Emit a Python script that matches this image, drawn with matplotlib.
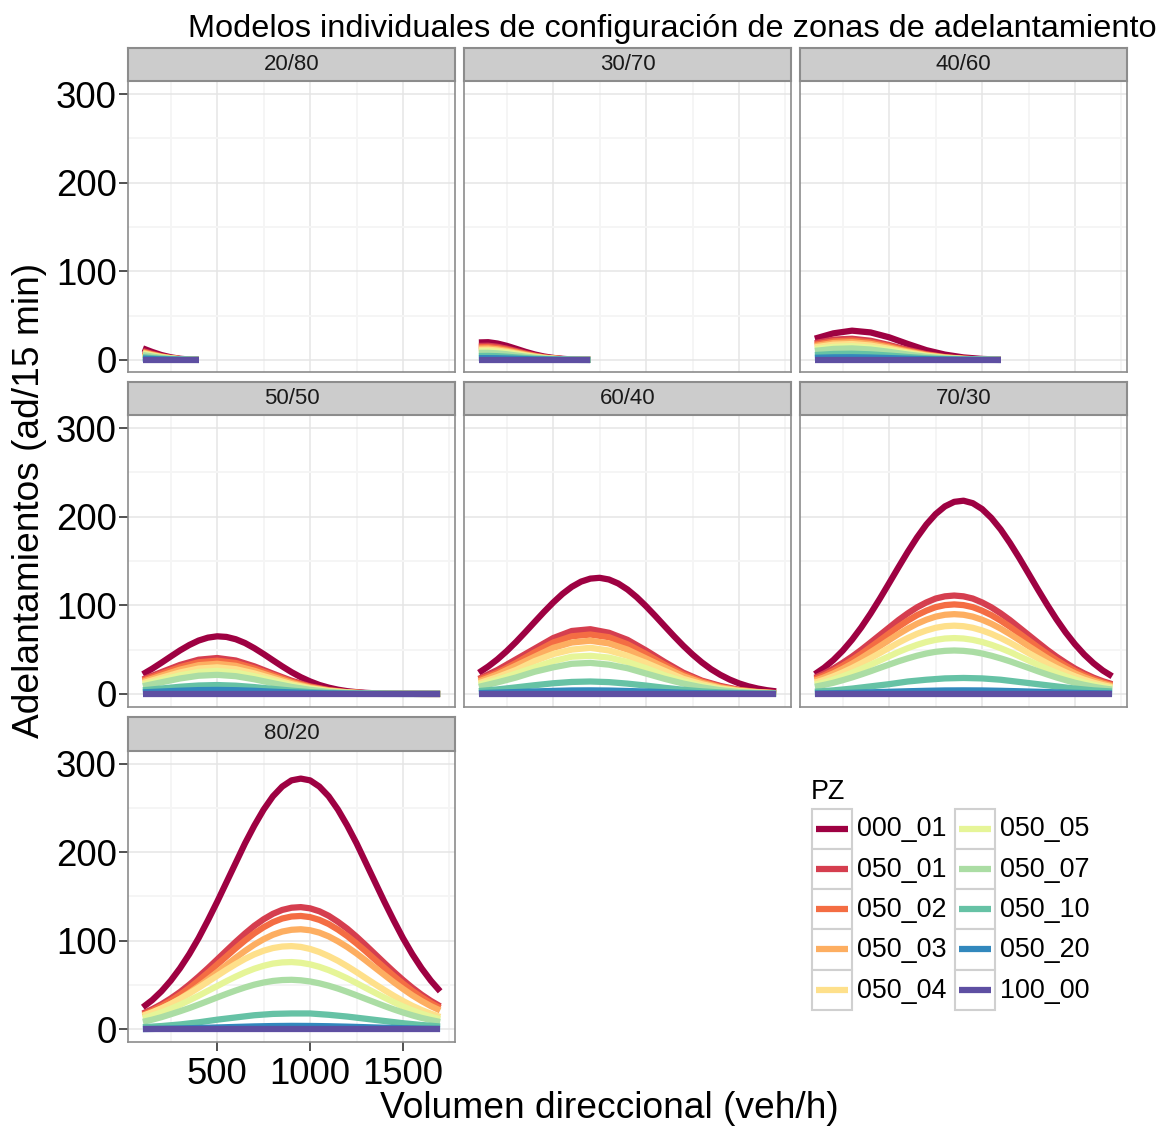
import matplotlib
matplotlib.use("Agg")
import matplotlib.pyplot as plt
from matplotlib.patches import Rectangle
from matplotlib.lines import Line2D

plt.rcParams['font.family'] = ['Liberation Sans', 'DejaVu Sans']

# series (PZ) and brewer Spectral colours
pz = ["000_01", "050_01", "050_02", "050_03", "050_04",
      "050_05", "050_07", "050_10", "050_20", "100_00"]
colors = ["#9E0142", "#D53E4F", "#F46D43", "#FDAE61", "#FEE08B",
          "#E6F598", "#ABDDA4", "#66C2A5", "#3288BD", "#5E4FA2"]
panels = ["20/80", "30/70", "40/60", "50/50", "60/40", "70/30", "80/20"]

# ---- 20/80 ----
x_2080 = [100, 150, 200, 250, 300, 350, 400]
y_2080 = {
    "000_01": [13, 9, 5.5, 3, 1.3, 0.5, 0.2],
    "050_01": [10, 6.9, 4.2, 2.3, 1.0, 0.4, 0.15],
    "050_02": [9, 6.2, 3.8, 2.1, 0.9, 0.4, 0.1],
    "050_03": [8.3, 5.7, 3.5, 1.9, 0.8, 0.3, 0.1],
    "050_04": [7.5, 5.2, 3.2, 1.7, 0.8, 0.3, 0.1],
    "050_05": [6.5, 4.5, 2.7, 1.5, 0.7, 0.3, 0.1],
    "050_07": [5.5, 3.8, 2.3, 1.3, 0.6, 0.2, 0.1],
    "050_10": [3, 2.1, 1.3, 0.7, 0.3, 0.1, 0.05],
    "050_20": [1.5, 1.0, 0.6, 0.35, 0.15, 0.06, 0.02],
    "100_00": [0, 0, 0, 0, 0, 0, 0],
}

# ---- 30/70 ----
x_3070 = [100, 150, 200, 250, 300, 350, 400, 450, 500, 550, 600, 650, 700]
y_3070 = {
    "000_01": [19.7, 20, 18.5, 15.9, 12.6, 9.2, 6.2, 3.9, 2.3, 1.2, 0.6, 0.3, 0.1],
    "050_01": [15.8, 16, 14.8, 12.7, 10.1, 7.4, 5.0, 3.1, 1.8, 1.0, 0.5, 0.2, 0.1],
    "050_02": [14.3, 14.5, 13.4, 11.5, 9.1, 6.7, 4.5, 2.8, 1.7, 0.9, 0.4, 0.2, 0.1],
    "050_03": [12.8, 13, 12.0, 10.3, 8.2, 6.0, 4.0, 2.5, 1.5, 0.8, 0.4, 0.2, 0.1],
    "050_04": [11.3, 11.5, 10.6, 9.1, 7.2, 5.3, 3.6, 2.2, 1.3, 0.7, 0.3, 0.2, 0.1],
    "050_05": [9.9, 10, 9.3, 8.0, 6.3, 4.6, 3.1, 2.0, 1.2, 0.6, 0.3, 0.2, 0.1],
    "050_07": [7.9, 8, 7.4, 6.4, 5.0, 3.7, 2.5, 1.6, 0.9, 0.5, 0.2, 0.1, 0.0],
    "050_10": [4.4, 4.5, 4.2, 3.6, 2.8, 2.1, 1.4, 0.9, 0.5, 0.3, 0.1, 0.1, 0.0],
    "050_20": [2.0, 2.0, 1.9, 1.6, 1.3, 0.9, 0.6, 0.4, 0.2, 0.1, 0.1, 0.0, 0.0],
    "100_00": [0, 0, 0, 0, 0, 0, 0, 0, 0, 0, 0, 0, 0],
}

# ---- 40/60 ----
x_4060 = [100, 200, 300, 400, 500, 600, 700, 800, 900, 1000, 1100]
y_4060 = {
    "000_01": [24, 30, 33, 31, 25.5, 18, 11, 6, 2.8, 1.1, 0.4],
    "050_01": [18.9, 22.9, 23.9, 21.6, 16.8, 11.3, 6.5, 3.2, 1.4, 0.5, 0.2],
    "050_02": [17.3, 21.0, 21.9, 19.8, 15.4, 10.3, 6.0, 3.0, 1.3, 0.5, 0.2],
    "050_03": [15.7, 19.1, 19.9, 18.0, 14.0, 9.4, 5.4, 2.7, 1.2, 0.4, 0.1],
    "050_04": [14.2, 17.2, 17.9, 16.2, 12.6, 8.4, 4.9, 2.4, 1.0, 0.4, 0.1],
    "050_05": [12.2, 14.8, 15.5, 13.9, 10.8, 7.3, 4.2, 2.1, 0.9, 0.3, 0.1],
    "050_07": [10.2, 12.4, 13.0, 11.7, 9.1, 6.1, 3.5, 1.8, 0.8, 0.3, 0.1],
    "050_10": [5.5, 6.7, 7.0, 6.3, 4.9, 3.3, 1.9, 0.9, 0.4, 0.2, 0.0],
    "050_20": [2.4, 2.9, 3.0, 2.7, 2.1, 1.4, 0.8, 0.4, 0.2, 0.1, 0.0],
    "100_00": [0, 0, 0, 0, 0, 0, 0, 0, 0, 0, 0],
}

# ---- 50/50 .. 80/20: full volume range ----
# 17-value series are read every 100 veh/h, 33-value series every 50 veh/h
x_full = [100, 200, 300, 400, 500, 600, 700, 800, 900,
          1000, 1100, 1200, 1300, 1400, 1500, 1600, 1700]
x_fine = [100, 150, 200, 250, 300, 350, 400, 450, 500, 550, 600,
          650, 700, 750, 800, 850, 900, 950, 1000, 1050, 1100, 1150,
          1200, 1250, 1300, 1350, 1400, 1450, 1500, 1550, 1600, 1650, 1700]

y_5050 = {
    "000_01": [22.2, 28.4, 35.2, 42.2, 49.1, 55.2, 60.2, 63.5, 65, 64.3, 61.7,
               57.4, 51.6, 45.0, 38.0, 31.1, 24.6, 18.9, 14.1, 10.1, 7.1, 4.8,
               3.1, 2.0, 1.2, 0.7, 0.4, 0.2, 0.1, 0.05, 0.03, 0.01, 0.0],
    "050_01": [16.4, 24.6, 32.7, 38.6, 40.5, 37.7, 31.1, 22.9, 14.9, 8.6, 4.4, 2.0, 0.8, 0.3, 0.1, 0.0, 0.0],
    "050_02": [15.2, 22.8, 30.3, 35.7, 37.5, 34.9, 28.8, 21.2, 13.8, 8.0, 4.1, 1.9, 0.8, 0.3, 0.1, 0.0, 0.0],
    "050_03": [13.8, 20.6, 27.4, 32.4, 34.0, 31.7, 26.1, 19.2, 12.5, 7.2, 3.7, 1.7, 0.7, 0.2, 0.1, 0.0, 0.0],
    "050_04": [12.2, 18.2, 24.2, 28.6, 30.0, 27.9, 23.1, 17.0, 11.0, 6.4, 3.3, 1.5, 0.6, 0.2, 0.1, 0.0, 0.0],
    "050_05": [10.5, 15.8, 21.0, 24.8, 26.0, 24.2, 20.0, 14.7, 9.6, 5.5, 2.8, 1.3, 0.5, 0.2, 0.1, 0.0, 0.0],
    "050_07": [8.7, 13.1, 17.4, 20.5, 21.5, 20.0, 16.5, 12.1, 7.9, 4.6, 2.3, 1.1, 0.4, 0.2, 0.0, 0.0, 0.0],
    "050_10": [4.1, 6.1, 8.1, 9.5, 10.0, 9.3, 7.7, 5.7, 3.7, 2.1, 1.1, 0.5, 0.2, 0.1, 0.0, 0.0, 0.0],
    "050_20": [1.8, 2.7, 3.6, 4.3, 4.5, 4.2, 3.5, 2.5, 1.7, 1.0, 0.5, 0.2, 0.1, 0.0, 0.0, 0.0, 0.0],
    "100_00": [0, 0, 0, 0, 0, 0, 0, 0, 0, 0, 0, 0, 0, 0, 0, 0, 0],
}

y_6040 = {
    "000_01": [23.9, 30.9, 39.0, 48.3, 58.6, 69.7, 81.1, 92.4, 103.1, 112.8, 120.8,
               126.7, 130.1, 131, 129.1, 124.6, 117.8, 109.1, 98.9, 87.9, 76.5, 65.2,
               54.4, 44.5, 35.6, 27.9, 21.5, 16.2, 11.9, 8.6, 6.1, 4.2, 2.9],
    "050_01": [17, 27, 39, 51, 63, 71, 73, 69, 61, 49, 36, 24, 15, 9, 4.6, 2.3, 1.0],
    "050_02": [16, 24, 35, 47, 58, 65, 67, 64, 56, 45, 33, 22, 14, 8, 4.3, 2.1, 0.9],
    "050_03": [14, 22, 32, 42, 52, 58, 60, 57, 50, 40, 30, 20, 12.6, 7.2, 3.8, 1.9, 0.8],
    "050_04": [12, 19, 27, 37, 45, 50, 52, 49, 43, 35, 26, 17, 11, 6.2, 3.3, 1.6, 0.7],
    "050_05": [10, 16, 23, 30, 37, 42, 43, 41, 36, 29, 21, 14.4, 9, 5.2, 2.8, 1.3, 0.6],
    "050_07": [8, 13, 18.5, 25, 30, 34, 35, 33, 29, 23, 17, 11.7, 7.4, 4.2, 2.2, 1.1, 0.5],
    "050_10": [3.2, 5.1, 7.4, 9.8, 12, 13.5, 14, 13.3, 11.6, 9.4, 6.9, 4.7, 2.9, 1.7, 0.9, 0.4, 0.2],
    "050_20": [0.9, 1.5, 2.1, 2.8, 3.4, 3.9, 4, 3.8, 3.3, 2.7, 2, 1.3, 0.8, 0.5, 0.3, 0.1, 0.1],
    "100_00": [0, 0, 0, 0, 0, 0, 0, 0, 0, 0, 0, 0, 0, 0, 0, 0, 0],
}

y_7030 = {
    "000_01": [22.3, 29.5, 38.3, 48.8, 61.1, 75.1, 90.7, 107.5, 125.1, 142.9, 160.3,
               176.6, 191.1, 202.9, 211.6, 216.7, 218, 215.2, 208.6, 198.5, 185.6, 170.3,
               153.5, 135.8, 118, 100.7, 84.3, 69.3, 56, 44.4, 34.6, 26.4, 19.9],
    "050_01": [18.3, 23.1, 28.6, 35.1, 42.1, 49.8, 58.1, 66.5, 74.9, 83.3, 90.9,
               97.7, 103.2, 107.6, 110.1, 111, 110.1, 107.6, 103.2, 97.7, 90.9, 83.3,
               74.9, 66.5, 58.1, 49.8, 42.1, 35.1, 28.6, 23.1, 18.3, 14.3, 11.0],
    "050_02": [16.7, 21.0, 26.1, 31.9, 38.3, 45.3, 52.8, 60.5, 68.2, 75.8, 82.7,
               88.9, 93.9, 97.9, 100.2, 101, 100.2, 97.9, 93.9, 88.9, 82.7, 75.8,
               68.2, 60.5, 52.8, 45.3, 38.3, 31.9, 26.1, 21.0, 16.7, 13.0, 10.0],
    "050_03": [14.9, 18.7, 23.2, 28.4, 34.1, 40.4, 47.1, 53.9, 60.8, 67.5, 73.7,
               79.2, 83.7, 87.2, 89.3, 90, 89.3, 87.2, 83.7, 79.2, 73.7, 67.5,
               60.8, 53.9, 47.1, 40.4, 34.1, 28.4, 23.2, 18.7, 14.9, 11.6, 8.9],
    "050_04": [12.7, 16.0, 19.9, 24.3, 29.2, 34.6, 40.3, 46.1, 52.0, 57.8, 63.1,
               67.8, 71.6, 74.6, 76.4, 77, 76.4, 74.6, 71.6, 67.8, 63.1, 57.8,
               52.0, 46.1, 40.3, 34.6, 29.2, 24.3, 19.9, 16.0, 12.7, 9.9, 7.6],
    "050_05": [10.4, 13.1, 16.3, 19.9, 23.9, 28.3, 32.9, 37.7, 42.5, 47.3, 51.6,
               55.4, 58.6, 61.0, 62.5, 63, 62.5, 61.0, 58.6, 55.4, 51.6, 47.3,
               42.5, 37.7, 32.9, 28.3, 23.9, 19.9, 16.3, 13.1, 10.4, 8.1, 6.2],
    "050_07": [8.1, 10.2, 12.6, 15.5, 18.6, 22.0, 25.6, 29.4, 33.1, 36.8, 40.1,
               43.1, 45.6, 47.5, 48.6, 49, 48.6, 47.5, 45.6, 43.1, 40.1, 36.8,
               33.1, 29.4, 25.6, 22.0, 18.6, 15.5, 12.6, 10.2, 8.1, 6.3, 4.9],
    "050_10": [2.5, 4, 6, 8.5, 11, 14, 16, 17.5, 18, 17.5, 16, 13.5, 11, 8.5, 6, 4, 2.7],
    "050_20": [0.5, 0.8, 1.2, 1.8, 2.4, 3.0, 3.5, 3.9, 4, 3.9, 3.5, 3.0, 2.4, 1.8, 1.2, 0.8, 0.5],
    "100_00": [0, 0, 0, 0, 0, 0, 0, 0, 0, 0, 0, 0, 0, 0, 0, 0, 0],
}

y_8020 = {
    "000_01": [25, 33, 43, 55, 69, 85, 103, 123, 144, 166, 188,
               210, 230, 248, 263, 274, 281, 283, 281, 274, 263, 248,
               230, 210, 188, 166, 144, 123, 103, 85, 69, 55, 43],
    "050_01": [18, 22.8, 28.4, 34.9, 42.2, 50.5, 59.5, 69.0, 78.9, 88.9, 98.8,
               108.2, 116.9, 124.3, 130.4, 134.8, 137.3, 138, 136.6, 133.3, 128.2, 121.4,
               113.6, 104.6, 94.9, 84.9, 74.9, 65.1, 55.8, 47.1, 39.2, 32.2, 26.1],
    "050_02": [16.6, 21.1, 26.4, 32.4, 39.2, 46.8, 55.2, 64, 73.2, 82.4, 91.6,
               100.4, 108.4, 115.3, 121, 125.1, 127.4, 128, 126.7, 123.6, 118.9, 112.6,
               105.3, 97, 88.1, 78.7, 69.5, 60.4, 51.7, 43.6, 36.4, 29.8, 24.2],
    "050_03": [14.7, 18.6, 23.3, 28.6, 34.6, 41.4, 48.7, 56.5, 64.6, 72.8, 80.9,
               88.6, 95.7, 101.8, 106.8, 110.4, 112.4, 113, 111.9, 109.2, 105.0, 99.4,
               93.0, 85.7, 77.7, 69.5, 61.4, 53.3, 45.7, 38.5, 32.1, 26.3, 21.4],
    "050_04": [15.5, 19.4, 23.8, 28.8, 34.4, 40.5, 47, 53.8, 60.5, 67.3, 73.7,
               79.6, 84.7, 88.8, 91.8, 93.5, 94, 93.1, 90.8, 87.3, 82.7, 77.4,
               71.3, 64.7, 57.8, 51, 44.4, 38, 32.1, 26.7, 21.9, 17.8, 14.1],
    "050_05": [12.5, 15.7, 19.2, 23.3, 27.8, 32.8, 38, 43.5, 48.9, 54.4, 59.6,
               64.4, 68.5, 71.8, 74.3, 75.6, 76, 75.2, 73.4, 70.6, 66.9, 62.5,
               57.6, 52.3, 46.7, 41.3, 35.9, 30.7, 25.9, 21.6, 17.7, 14.4, 11.4],
    "050_07": [8.6, 11.0, 13.8, 17.1, 20.5, 24.1, 28, 32, 36.1, 40.1, 43.9,
               47.4, 50.5, 52.9, 54.7, 55.7, 56, 55.4, 54.1, 52, 49.3, 46.1,
               42.4, 38.5, 34.4, 30.4, 26.4, 22.6, 19.1, 15.9, 13, 10.6, 8.4],
    "050_10": [2.5, 3.8, 5.6, 8, 11, 13.5, 16, 17.5, 18, 18, 16.5, 14.5, 12, 9.5, 7, 5, 3.3],
    "050_20": [0.4, 0.7, 1.1, 1.6, 2.2, 2.8, 3.4, 3.8, 4, 3.9, 3.6, 3.1, 2.5, 1.9, 1.4, 0.9, 0.6],
    "100_00": [0, 0, 0, 0, 0, 0, 0, 0, 0, 0, 0, 0, 0, 0, 0, 0, 0],
}

panel_x = [x_2080, x_3070, x_4060, x_full, x_full, x_full, x_full]
panel_y = [y_2080, y_3070, y_4060, y_5050, y_6040, y_7030, y_8020]

# ---- layout in pixels ----
W, H = 1159, 1126
col_left = [128, 464, 800]
row_top = [81, 415, 750.5]
pw, ph, sh = 327, 291.5, 33.5

fig = plt.figure(figsize=(W / 100, H / 100), dpi=100)


def rect(left, top, width, height):
    return [left / W, 1 - (top + height) / H, width / W, height / H]


for i, name in enumerate(panels):
    r, c = divmod(i, 3)
    ax = fig.add_axes(rect(col_left[c], row_top[r], pw, ph))
    for k, s in enumerate(pz):
        vals = panel_y[i][s]
        xs = x_fine if len(vals) == len(x_fine) else panel_x[i]
        ax.plot(xs, vals, color=colors[k], lw=4.5,
                solid_capstyle='butt', solid_joinstyle='round', zorder=3 + k * 0.01)
    ax.set_xlim(20, 1780)
    ax.set_ylim(-14.2, 314.7)
    ax.set_xticks([500, 1000, 1500])
    ax.set_xticks([250, 750, 1250, 1750], minor=True)
    ax.set_yticks([0, 100, 200, 300])
    ax.set_yticks([50, 150, 250], minor=True)
    ax.grid(which='major', color='#E5E5E5', lw=1.1)
    ax.grid(which='minor', color='#F5F5F5', lw=1.3)
    ax.set_axisbelow(True)
    for sp in ax.spines.values():
        sp.set_color('#8C8C8C')
        sp.set_linewidth(1.2)
    ax.tick_params(which='both', length=0, labelleft=False, labelbottom=False)
    if c == 0:
        ax.tick_params(axis='y', which='major', length=6.5, width=1.2,
                       color='#333333', labelleft=True, labelsize=26.3, pad=1.5)
    if i == 6:
        ax.tick_params(axis='x', which='major', length=6.5, width=1.2,
                       color='#333333', labelbottom=True, labelsize=26.3, pad=4.5)

    # facet strip
    sx = fig.add_axes(rect(col_left[c], row_top[r] - sh, pw, sh))
    sx.set_facecolor('#CCCCCC')
    sx.set_xticks([])
    sx.set_yticks([])
    for sp in sx.spines.values():
        sp.set_color('#8C8C8C')
        sp.set_linewidth(1.5)
    sx.text(0.5, 0.5, name, ha='center', va='center', fontsize=16,
            color='#1A1A1A', transform=sx.transAxes)

# ---- overlay for titles and legend ----
ov = fig.add_axes([0, 0, 1, 1])
ov.set_xlim(0, W)
ov.set_ylim(H, 0)
ov.axis('off')

ov.text(672, 29, "Modelos individuales de configuración de zonas de adelantamiento",
        ha='center', va='center', fontsize=23.4)
ov.text(609, 1109, "Volumen direccional (veh/h)", ha='center', va='center', fontsize=26.7)
ov.text(30, 500, "Adelantamientos (ad/15 min)", ha='center', va='center',
        fontsize=26.7, rotation=90)

ov.text(811, 792, "PZ", ha='left', va='center', fontsize=19.4)
key_x = [811.5, 955]
for k, s in enumerate(pz):
    col, row = divmod(k, 5)
    bx = key_x[col]
    by = 808.5 + row * 40.3
    ov.add_patch(Rectangle((bx, by), 40, 40.3, fc='white', ec='#D0D0D0', lw=1.5))
    ov.add_line(Line2D([bx + 4, bx + 36], [by + 20, by + 20], color=colors[k],
                       lw=4.5, solid_capstyle='butt'))
    ov.text(bx + 45, by + 21, s, ha='left', va='center', fontsize=19.4)

fig.savefig("out.png", dpi=100, facecolor='white')
